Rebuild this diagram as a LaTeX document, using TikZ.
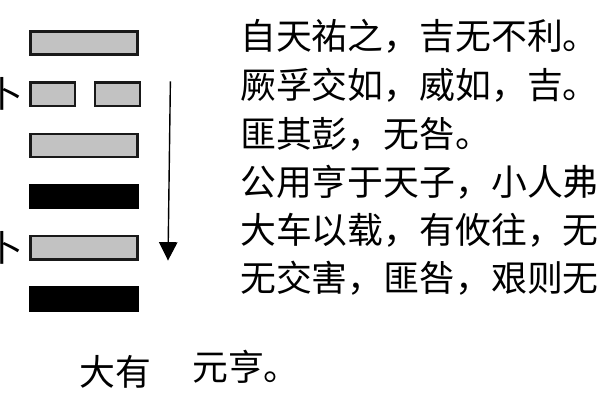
\documentclass[tikz,border=0pt]{standalone}
\usepackage{fontspec}
\newfontfamily\cjk{Noto Sans CJK SC}
\usetikzlibrary{arrows.meta,positioning,calc}

\begin{document}
\begin{tikzpicture}[node distance=6.4mm, every node/.style={font={\cjk\fontsize{25.5pt}{30pt}\selectfont}, inner sep=0pt},
  yang/.style={draw=black!90, line width=1.7pt, fill=black!24, minimum width=2.68cm, minimum height=0.58cm},
  yin/.style={draw=black!90, line width=1.7pt, fill=black!24, minimum width=1.12cm, minimum height=0.58cm},
  yangdark/.style={draw=black, line width=1.7pt, fill=black, minimum width=2.68cm, minimum height=0.58cm},
  yaoci/.style={anchor=base west}]
\useasboundingbox (0,0) rectangle (15,10);
% the six lines, top line first
\node[yang] (yao6) at (2.1,8.925) {};
\node[yin, below=of yao6.south west, anchor=north west] (yao5a) {};
\node[yin, right=4.4mm of yao5a] (yao5b) {};
\node[yang, below=of yao5a.south west, anchor=north west] (yao4) {};
\node[yangdark, below=of yao4] (yao3) {};
\node[yang, below=of yao3] (yao2) {};
\node[yangdark, below=of yao2] (yao1) {};
\node[left=1.4mm of yao5a] (bu5) {卜};
\node[left=1.4mm of yao2] (bu2) {卜};
% arrow down the side
\coordinate (arrtop) at ($(yao5b.north east)+(0.73,0)$);
\coordinate (arrbot) at ($(yao2.south east)+(0.73,0)$);
\draw[line width=1pt, -{Triangle[length=4.6mm, width=4.6mm]}] (arrtop) -- (arrbot);
% the texts
\node[yaoci] (t6) at (6.0,8.76) {自天祐之，吉无不利。};
\node[yaoci] (t5) at (6.0,7.54) {厥孚交如，威如，吉。};
\node[yaoci] (t4) at (6.0,6.32) {匪其彭，无咎。};
\node[yaoci] (t3) at (6.0,5.10) {公用亨于天子，小人弗};
\node[yaoci] (t2) at (6.0,3.90) {大车以载，有攸往，无};
\node[yaoci] (t1) at (6.0,2.70) {无交害，匪咎，艰则无};
\node[yaoci] (gua) at (1.975,0.35) {大有};
\node[yaoci] (guaci) at (4.8,0.475) {元亨。};
\end{tikzpicture}
\end{document}
